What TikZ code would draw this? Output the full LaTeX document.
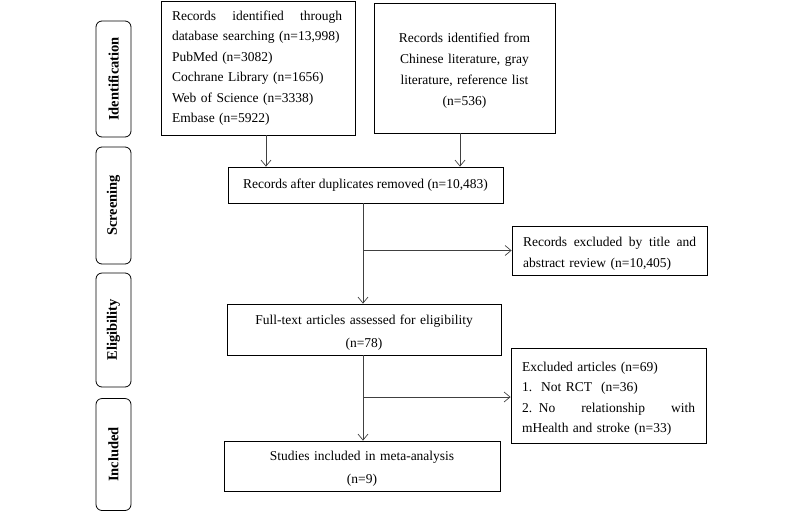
\documentclass[tikz,border=0pt]{standalone}
\usepackage{fontspec}
\setmainfont{Liberation Serif}
\usetikzlibrary{arrows.meta}
\newcommand{\dnstrut}{\rule{0pt}{15.5pt}}
\begin{document}
\begin{tikzpicture}[x=1pt,y=1pt,
  box/.style={draw=black, line width=0.8pt, inner sep=0pt, font=\fontsize{13.5}{20.5}\selectfont},
  cbox/.style={box, align=center, font=\fontsize{13.5}{21}\selectfont},
  lbox/.style={box, align=left},
  phase/.style={draw=black, line width=0.8pt, rounded corners=6pt, minimum height=35pt, inner sep=0pt, rotate=90, font=\fontsize{14.5}{16}\selectfont\bfseries},
  arr/.style={draw=black!75, line width=0.7pt, -{Straight Barb[length=6pt,width=10pt]}},
  ln/.style={draw=black!75, line width=0.7pt}]
\useasboundingbox (0,0) rectangle (800,-512);

% phase labels
\node[phase, minimum width=116pt] (pid) at (113.5,-79) {Identification};
\node[phase, minimum width=117pt] (psc) at (113.5,-205.5) {Screening};
\node[phase, minimum width=114pt] (pel) at (113.5,-330) {Eligibility};
\node[phase, minimum width=112pt] (pin) at (113.5,-454.5) {Included};

% boxes
\node[lbox, minimum width=194pt, minimum height=134pt, text width=172pt] (db) at (258,-68)
  {\makebox[170pt]{Records\hfill identified\hfill through}\\ database searching (n=13,998)\\ PubMed (n=3082)\\ Cochrane Library (n=1656)\\ Web of Science (n=3338)\\ Embase (n=5922)};
\node[cbox, minimum width=181pt, minimum height=130pt, text width=170pt] (oth) at (464.5,-68)
  {\dnstrut Records identified from\\ Chinese literature, gray\\ literature, reference list\\ (n=536)};
\node[box, minimum width=275pt, minimum height=36pt] (dup) at (365.5,-185)
  {Records after duplicates removed (n=10,483)};
\node[lbox, minimum width=195pt, minimum height=49pt, text width=173pt] (ex1) at (609.5,-250.5)
  {\dnstrut\makebox[173pt]{Records\hfill excluded\hfill by\hfill title\hfill and}\\ abstract review (n=10,405)};
\node[cbox, minimum width=274pt, minimum height=51pt, text width=260pt, font=\fontsize{13.5}{23}\selectfont] (full) at (364,-329.5)
  {\dnstrut Full-text articles assessed for eligibility\\ (n=78)};
\node[lbox, minimum width=195pt, minimum height=95pt, text width=173pt] (ex2) at (608.5,-395.5)
  {\dnstrut Excluded articles (n=69)\\ 1.\ \ Not RCT\ \ (n=36)\\ \makebox[173pt]{2. No\hfill relationship\hfill with}\\ mHealth and stroke (n=33)};
\node[cbox, minimum width=276pt, minimum height=50pt, text width=260pt, font=\fontsize{13.5}{23}\selectfont] (inc) at (362,-466)
  {\dnstrut Studies included in meta-analysis\\ (n=9)};

% connectors
\coordinate (xa) at (266,0);
\coordinate (xb) at (460,0);
\coordinate (xv) at (363,0);
\draw[arr] (db.south -| xa) -- (dup.north -| xa);
\draw[arr] (oth.south -| xb) -- (dup.north -| xb);
\draw[arr] (dup.south -| xv) -- (full.north -| xv);
\draw[arr] (ex1.west -| xv) -- (ex1.west);
\draw[arr] (full.south -| xv) -- (inc.north -| xv);
\coordinate (y2) at (0,-397);
\draw[arr] (y2 -| xv) -- (y2 -| ex2.west);
\end{tikzpicture}
\end{document}
